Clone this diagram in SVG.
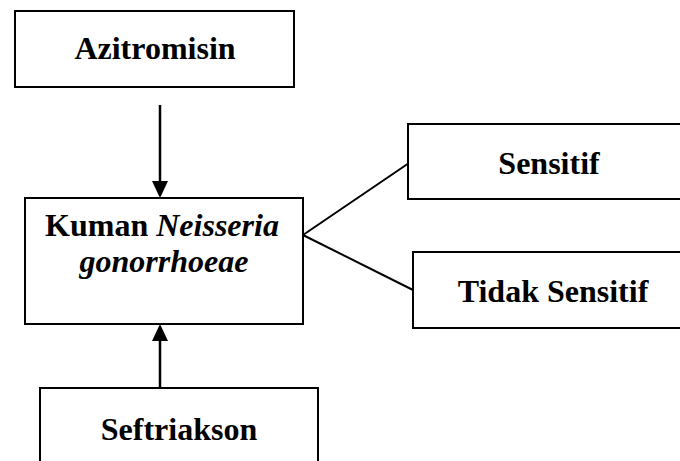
<svg xmlns="http://www.w3.org/2000/svg" width="680" height="461" viewBox="0 0 680 461">
<style>
.box{fill:#fff;stroke:#000;stroke-width:2}
.t{font-family:"Liberation Serif","Times New Roman",serif;font-weight:bold;font-size:32px;fill:#000;text-anchor:middle}
.i{font-style:italic}
.ln{stroke:#000;stroke-width:2;fill:none}
.ar{stroke:#000;stroke-width:2.5;fill:none}
</style>
<rect width="680" height="461" fill="#fff"/>
<g id="connectors">
<line class="ar" x1="160" y1="105" x2="160" y2="182"/>
<path d="M152,181 L168,181 L160,198 Z" fill="#000"/>
<line class="ar" x1="160" y1="396" x2="160" y2="340"/>
<path d="M152,341 L168,341 L160,324 Z" fill="#000"/>
<line class="ln" x1="303" y1="235" x2="409" y2="163"/>
<line class="ln" x1="303" y1="235" x2="413" y2="290"/>
</g>
<g id="azitromisin">
<rect class="box" x="15" y="11" width="279" height="76"/>
<text class="t" x="155" y="59">Azitromisin</text>
</g>
<g id="kuman">
<rect class="box" x="25" y="198" width="278" height="126"/>
<text class="t" x="162" y="236">Kuman <tspan class="i">Neisseria</tspan></text>
<text class="t i" x="164" y="272">gonorrhoeae</text>
</g>
<g id="seftriakson">
<rect class="box" x="40" y="388" width="278" height="80"/>
<text class="t" x="179" y="440">Seftriakson</text>
</g>
<g id="sensitif">
<rect class="box" x="408" y="124" width="280" height="75"/>
<text class="t" x="549" y="174">Sensitif</text>
</g>
<g id="tidak-sensitif">
<rect class="box" x="413" y="252" width="280" height="76"/>
<text class="t" x="553" y="302">Tidak Sensitif</text>
</g>
</svg>
